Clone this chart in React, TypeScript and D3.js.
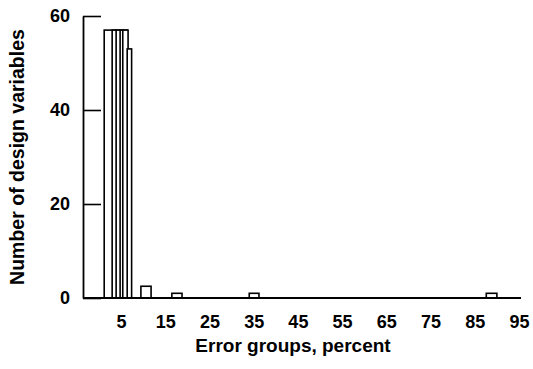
import React, { FC } from 'react';
import * as d3 from 'd3';

// overlapping histogram bars: start, end (percent) and count
const barStart = [1.2, 3.0, 3.9, 4.8, 5.4, 6.4, 9.5, 16.5, 34.0, 87.6];
const barEnd = [3.9, 4.8, 5.4, 6.4, 6.6, 7.4, 11.8, 18.8, 36.2, 90.0];
const barCount = [57, 57, 57, 57, 57, 53, 2.5, 1, 1, 1];

const xTicks = [5, 15, 25, 35, 45, 55, 65, 75, 85, 95];
const yTicks = [0, 20, 40, 60];

const width = 533;
const height = 369;
const font = '"Liberation Sans", Arial, sans-serif';

const App: FC = () => (
  <div
    ref={(elem) => {
      if (!elem) {
        return;
      }
      const svg = chart();
      if (!svg) {
        return;
      }
      elem.innerHTML = '';
      elem.appendChild(svg);
    }}
    style={{ position: 'absolute', left: 0, top: 0 }}
  />
);

const chart = () => {
  const x = d3.scaleLinear().domain([5, 95]).range([121, 519]);
  const y = d3.scaleLinear().domain([0, 60]).range([298, 16]);
  const axisX = 83;
  const axisEnd = 521;

  const svg = d3
    .create('svg')
    .attr('width', width)
    .attr('height', height)
    .attr('viewBox', `0, 0, ${width}, ${height}`)
    .style('display', 'block')
    .style('background', '#fff');

  const data = barCount.map((v, i) => ({ v, x0: barStart[i], x1: barEnd[i] }));

  svg
    .append('g')
    .attr('fill', '#fff')
    .attr('stroke', '#000')
    .attr('stroke-width', 1.6)
    .selectAll('rect')
    .data(data)
    .join('rect')
    .attr('x', (d) => x(d.x0))
    .attr('y', (d) => y(d.v))
    .attr('width', (d) => x(d.x1) - x(d.x0))
    .attr('height', (d) => y(0) - y(d.v));

  // y axis
  svg
    .append('g')
    .attr('transform', `translate(${axisX},0)`)
    .call(
      d3
        .axisLeft(y)
        .tickValues(yTicks)
        .tickSize(-18)
        .tickSizeOuter(0)
        .tickPadding(13),
    )
    .call((g) => g.selectAll('line').attr('stroke-width', 1.6))
    .call((g) => g.select('.domain').attr('stroke-width', 1.8))
    .call((g) =>
      g
        .selectAll('text')
        .attr('font-family', font)
        .attr('font-weight', 'bold')
        .attr('font-size', 18)
        .attr('fill', '#000'),
    );

  // x axis
  svg
    .append('g')
    .attr('transform', `translate(0,${y(0)})`)
    .call(d3.axisBottom(x).tickValues(xTicks).tickSize(0).tickPadding(17))
    .call((g) => g.select('.domain').remove())
    .call((g) =>
      g
        .selectAll('text')
        .attr('font-family', font)
        .attr('font-weight', 'bold')
        .attr('font-size', 18)
        .attr('fill', '#000'),
    );

  svg
    .append('line')
    .attr('x1', axisX)
    .attr('x2', axisEnd)
    .attr('y1', y(0))
    .attr('y2', y(0))
    .attr('stroke', '#000')
    .attr('stroke-width', 1.8);

  svg
    .append('text')
    .attr('x', 293)
    .attr('y', 352)
    .attr('text-anchor', 'middle')
    .attr('font-family', font)
    .attr('font-weight', 'bold')
    .attr('font-size', 19)
    .text('Error groups, percent');

  svg
    .append('text')
    .attr('transform', 'translate(24,157) rotate(-90)')
    .attr('text-anchor', 'middle')
    .attr('font-family', font)
    .attr('font-weight', 'bold')
    .attr('font-size', 19.5)
    .text('Number of design variables');

  return svg.node();
};

export default App;
